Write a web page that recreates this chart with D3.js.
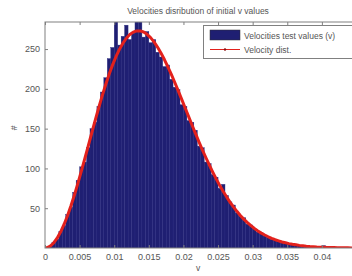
<!DOCTYPE html>
<html>
<head>
<meta charset="utf-8">
<script src="https://cdn.jsdelivr.net/npm/d3@7"></script>
<style>
  body { margin:0; background:#fff; }
  svg text { font-family: "Liberation Sans", Arial, sans-serif; fill:#555; }
</style>
</head>
<body>
<svg id="chart" width="352" height="276"></svg>
<script>
/************************ data ************************/
var binWidth = 0.0005;   // histogram bin width in v
// counts per bin, bin k covers [k*binWidth, (k+1)*binWidth]
var histCounts = [1,2,7,11,21,28,42,51,70,85,
	102,108,126,150,158,178,196,214,238,252,
	288,255,266,280,262,270,286,292,265,272,
	258,262,246,240,228,230,212,202,199,180,
	178,160,158,148,128,126,108,106,92,89,
	75,80,66,58,54,44,40,38,30,29,
	24,20,19,15,13,11,10,9,7,6,
	5,5,4,3,2,3,2,1,1,1,
	3,2,0,1,0,0,0,0,0,0];
// fitted curve, one value per bin centre
var curveVals = [0.3,2.3,6.3,12.3,20.1,29.6,40.6,53,66.6,81.2,
	96.5,112.3,128.4,144.5,160.4,175.9,190.8,204.8,217.9,229.8,
	240.4,249.6,257.3,263.6,268.2,271.3,272.8,272.8,271.4,268.5,
	264.4,259,252.5,245,236.8,227.7,218.1,208,197.5,186.8,
	176,165.1,154.3,143.7,133.2,123.1,113.4,104,95.1,86.5,
	78.4,71,64,57.4,51.4,45.8,40.6,36,31.9,28.1,
	24.6,21.5,18.7,16.3,14.1,12.1,10.4,9,7.6,6.5,
	5.5,4.7,4,3.3,2.8,2.3,1.9,1.6,1.3,1.1,
	0.9,0.7,0.6,0.5,0.4,0.3,0.2,0.2,0.1,0.1];
var xTicks = [0,0.005,0.01,0.015,0.02,0.025,0.03,0.035,0.04];
var yTicks = [50,100,150,200,250];
var legendLabels = ["Velocities test values (v)","Velocity dist."];

/************************ layout *******************************/
var L = 45, T = 22, B = 248, R = 356.5;
var svg = d3.select("#chart");
var x = d3.scaleLinear().domain([0,0.045]).range([L,R]);
var y = d3.scaleLinear().domain([0,284]).range([B,T]);

svg.append("clipPath").attr("id","plotclip")
	.append("rect").attr("x",L).attr("y",T).attr("width",R-L).attr("height",B-T);

var plot = svg.append("g").attr("clip-path","url(#plotclip)");

// bars
plot.selectAll("rect.bar").data(histCounts).enter().append("rect")
	.attr("class","bar")
	.attr("x",function(d,i){ return x(i*binWidth); })
	.attr("y",function(d){ return y(d); })
	.attr("width",function(d,i){ return x((i+1)*binWidth)-x(i*binWidth); })
	.attr("height",function(d){ return B-y(d); })
	.attr("fill","#1f1f72")
	.attr("stroke","#2a2a80")
	.attr("stroke-width",0.4);

// curve
var curvePts = [[0,0]].concat(curveVals.map(function(d,i){ return [(i+0.5)*binWidth,d]; }));
var line = d3.line().x(function(d){ return x(d[0]); }).y(function(d){ return y(d[1]); });
plot.append("path").datum(curvePts)
	.attr("d",line)
	.attr("fill","none")
	.attr("stroke","#e3211c")
	.attr("stroke-width",3)
	.attr("stroke-linejoin","round");

// axes box
svg.append("rect").attr("x",L).attr("y",T).attr("width",R-L).attr("height",B-T)
	.attr("fill","none").attr("stroke","#808080").attr("stroke-width",1);

var tickLen = 3;
var axisB = d3.axisBottom(x).tickValues(xTicks).tickSizeInner(-tickLen).tickSizeOuter(0)
	.tickFormat(function(d){ return String(+d.toFixed(3)); }).tickPadding(6);
var gB = svg.append("g").attr("transform","translate(0,"+B+")").call(axisB);
var axisT = d3.axisTop(x).tickValues(xTicks).tickSizeInner(-tickLen).tickSizeOuter(0).tickFormat("");
var gT = svg.append("g").attr("transform","translate(0,"+T+")").call(axisT);
var axisL = d3.axisLeft(y).tickValues(yTicks).tickSizeInner(-tickLen).tickSizeOuter(0).tickPadding(5);
var gL = svg.append("g").attr("transform","translate("+L+",0)").call(axisL);

[gB,gT,gL].forEach(function(g){
	g.select(".domain").remove();
	g.selectAll("line").attr("stroke","#808080");
	g.selectAll("text").attr("font-size","9px").attr("fill","#555")
		.attr("font-family","Liberation Sans, Arial, sans-serif");
});

// labels
svg.append("text").attr("x",198).attr("y",14).attr("text-anchor","middle")
	.attr("font-size","8.5px").attr("fill","#444").text("Velocities disribution of initial v values");
svg.append("text").attr("x",198).attr("y",271).attr("text-anchor","middle")
	.attr("font-size","8.5px").text("v");
svg.append("text").attr("transform","translate(17,128) rotate(-90)").attr("text-anchor","middle")
	.attr("font-size","8.5px").text("#");

// legend
var lg = svg.append("g");
lg.append("rect").attr("x",203.5).attr("y",25.5).attr("width",160).attr("height",33)
	.attr("fill","#fff").attr("stroke","#808080");
lg.append("rect").attr("x",210).attr("y",30).attr("width",30).attr("height",10)
	.attr("fill","#1f1f72").attr("stroke","#333").attr("stroke-width",0.5);
lg.append("line").attr("x1",210).attr("x2",240).attr("y1",49.5).attr("y2",49.5)
	.attr("stroke","#e3211c").attr("stroke-width",1);
lg.append("circle").attr("cx",225).attr("cy",49.5).attr("r",1.2).attr("fill","#8a1010");
lg.selectAll("text.leg").data(legendLabels).enter().append("text")
	.attr("class","leg")
	.attr("x",244).attr("y",function(d,i){ return 38.5+i*14; })
	.attr("font-size","8.5px").attr("fill","#444").text(function(d){ return d; });
</script>
</body>
</html>
